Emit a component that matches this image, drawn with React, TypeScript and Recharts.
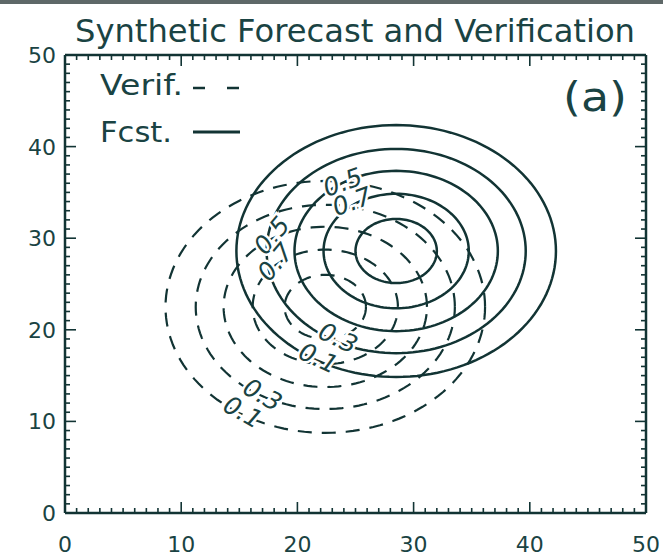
import React from 'react';
import { LineChart, Line, XAxis, YAxis, ReferenceDot } from 'recharts';

// contour levels, innermost first, and their radius (axis units)
const levels = [0.9, 0.7, 0.5, 0.3, 0.1];
const contourRadius = [3.5, 6.25, 8.75, 11.15, 13.75];

// centres of the two fields
const fcstCenter = { x: 28.5, y: 28.6 };
const verifCenter = { x: 22.4, y: 22.5 };

// contour labels (axis units)
const fcstLabels = [
  { text: '0.5', x: 23.9, y: 36.1, angle: -20 },
  { text: '0.7', x: 24.7, y: 34.0, angle: -20 },
  { text: '0.3', x: 23.5, y: 19.1, angle: 25 },
  { text: '0.1', x: 21.8, y: 16.9, angle: 25 },
];
const verifLabels = [
  { text: '0.5', x: 17.8, y: 30.3, angle: -50 },
  { text: '0.7', x: 18.1, y: 27.4, angle: -50 },
  { text: '0.3', x: 17.0, y: 12.9, angle: 30 },
  { text: '0.1', x: 15.3, y: 11.0, angle: 30 },
];

const majorTicks = [0, 10, 20, 30, 40, 50];
const minorTicks = Array.from({ length: 51 }, (_, i) => i);

const INK = '#123434';
const TEXT = '#1a4343';
const FONT = '"DejaVu Sans", sans-serif';

// outline of a circular contour of given radius around a centre
function ring(c: { x: number; y: number }, r: number) {
  const pts = [];
  for (let k = 0; k <= 144; k++) {
    const t = (k / 144) * Math.PI * 2;
    pts.push({ x: c.x + r * Math.cos(t), y: c.y + r * Math.sin(t) });
  }
  return pts;
}

const isMajor = (v: number) => majorTicks.includes(v);

const BottomTick = ({ x, y, payload }: any) => (
  <g>
    <line x1={x} x2={x} y1={y} y2={y - (isMajor(payload.value) ? 11 : 5)} stroke={INK} strokeWidth={1.6} />
    {isMajor(payload.value) && (
      <text x={x} y={y + 39} textAnchor="middle" fontSize={22} fontFamily={FONT} fill={TEXT}>
        {payload.value}
      </text>
    )}
  </g>
);

const TopTick = ({ x, y, payload }: any) => (
  <line x1={x} x2={x} y1={y} y2={y + (isMajor(payload.value) ? 11 : 5)} stroke={INK} strokeWidth={1.6} />
);

const LeftTick = ({ x, y, payload }: any) => (
  <g>
    <line x1={x} x2={x + (isMajor(payload.value) ? 11 : 5)} y1={y} y2={y} stroke={INK} strokeWidth={1.6} />
    {isMajor(payload.value) && (
      <text x={x - 9} y={y + 8} textAnchor="end" fontSize={22} fontFamily={FONT} fill={TEXT}>
        {payload.value}
      </text>
    )}
  </g>
);

const RightTick = ({ x, y, payload }: any) => (
  <line x1={x} x2={x - (isMajor(payload.value) ? 11 : 5)} y1={y} y2={y} stroke={INK} strokeWidth={1.6} />
);

const contourLabel = (text: string, angle: number) => (props: any) => {
  const { x, y } = props.viewBox;
  return (
    <text
      x={x}
      y={y}
      transform={`rotate(${angle} ${x} ${y})`}
      textAnchor="middle"
      dominantBaseline="central"
      fontSize={25}
      fontStyle="italic"
      fontFamily={FONT}
      fill={TEXT}
      stroke="#ffffff"
      strokeWidth={5}
      paintOrder="stroke"
    >
      {text}
    </text>
  );
};

const axisProps = {
  type: 'number' as const,
  domain: [0, 50],
  ticks: minorTicks,
  interval: 0,
  tickSize: 0,
  tickMargin: 0,
  tickLine: false,
  axisLine: { stroke: INK, strokeWidth: 2.5 },
  allowDataOverflow: true,
};

export default function App() {
  return (
    <div style={{ position: 'absolute', left: 0, top: 0, width: 663, height: 557, background: '#fff' }}>
      <LineChart width={663} height={557} margin={{ top: 54, right: 16, bottom: 0, left: 0 }}>
        <XAxis xAxisId="b" dataKey="x" height={44} tick={BottomTick} {...axisProps} />
        <XAxis xAxisId="t" orientation="top" dataKey="x" height={1} tick={TopTick} {...axisProps} />
        <YAxis yAxisId="l" width={65} tick={LeftTick} {...axisProps} />
        <YAxis yAxisId="r" orientation="right" width={1} tick={RightTick} {...axisProps} />
        {levels.map((lv, i) => (
          <Line
            key={`v${lv}`}
            xAxisId="b"
            yAxisId="l"
            data={ring(verifCenter, contourRadius[i])}
            dataKey="y"
            type="linear"
            dot={false}
            activeDot={false}
            stroke={INK}
            strokeWidth={2.2}
            strokeDasharray="14 10"
            isAnimationActive={false}
          />
        ))}
        {levels.map((lv, i) => (
          <Line
            key={`f${lv}`}
            xAxisId="b"
            yAxisId="l"
            data={ring(fcstCenter, contourRadius[i])}
            dataKey="y"
            type="linear"
            dot={false}
            activeDot={false}
            stroke={INK}
            strokeWidth={2.5}
            isAnimationActive={false}
          />
        ))}
        {[...verifLabels, ...fcstLabels].map((l, i) => (
          <ReferenceDot
            key={`lab${i}`}
            xAxisId="b"
            yAxisId="l"
            x={l.x}
            y={l.y}
            r={0}
            stroke="none"
            fill="none"
            label={contourLabel(l.text, l.angle)}
          />
        ))}
      </LineChart>
      <svg width={663} height={557} style={{ position: 'absolute', left: 0, top: 0, pointerEvents: 'none' }}>
        <rect x={0} y={0} width={663} height={4} fill="#5e6868" />
        <text x={355} y={42} textAnchor="middle" fontSize={32} fontFamily={FONT} fill={TEXT} textLength={560} lengthAdjust="spacingAndGlyphs">
          Synthetic Forecast and Verification
        </text>
        <text x={100} y={95} fontSize={29} fontFamily={FONT} fill={TEXT} textLength={83} lengthAdjust="spacingAndGlyphs">
          Verif.
        </text>
        <line x1={193} x2={240} y1={88} y2={88} stroke={INK} strokeWidth={2.5} strokeDasharray="12 22" />
        <text x={100} y={142} fontSize={29} fontFamily={FONT} fill={TEXT} textLength={72} lengthAdjust="spacingAndGlyphs">
          Fcst.
        </text>
        <line x1={193} x2={240} y1={132} y2={132} stroke={INK} strokeWidth={3} />
        <text x={563} y={111} fontSize={40} fontFamily={FONT} fill={TEXT} textLength={64} lengthAdjust="spacingAndGlyphs">
          (a)
        </text>
      </svg>
    </div>
  );
}
